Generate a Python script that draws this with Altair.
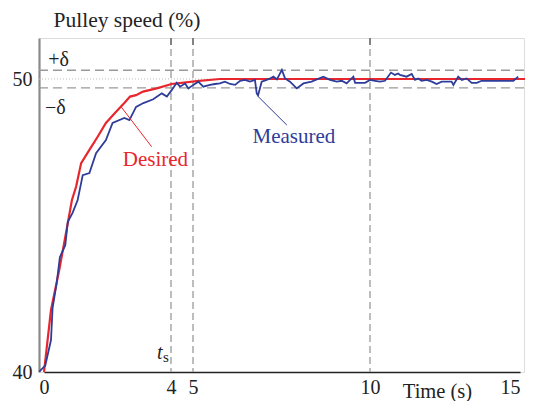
import altair as alt
import pandas as pd

# ---- data ----
desired_t = [0.0, 0.22, 0.48, 0.75, 0.88, 1.01, 1.17, 1.43, 1.69, 1.95, 2.27, 2.53, 2.71, 2.90,
             3.12, 3.55, 4.03, 5.10, 5.76, 15.17]
desired_v = [40.0, 42.12, 43.48, 45.09, 45.87, 46.32, 47.13, 47.58, 48.03, 48.50, 48.88, 49.18,
             49.40, 49.45, 49.57, 49.68, 49.83, 49.93, 50.0, 50.0]

measured_t = [-0.15, 0.04, 0.22, 0.27, 0.40, 0.50, 0.67, 0.75, 0.90, 1.06, 1.22, 1.43, 1.64, 1.95,
              2.16, 2.53, 2.69, 2.90, 3.13, 3.44, 3.71, 3.87, 4.03, 4.26, 4.41, 4.64, 4.79, 5.01,
              5.15, 5.29, 5.48, 5.62, 5.76, 5.90, 6.05, 6.19, 6.33, 6.47, 6.61, 6.75, 6.80, 6.84,
              6.94, 7.08, 7.18, 7.27, 7.37, 7.51, 7.60, 7.74, 7.93, 8.12, 8.35, 8.68, 8.87, 9.06,
              9.20, 9.34, 9.53, 9.58, 9.86, 10.0, 10.17, 10.33, 10.5, 10.7, 10.83, 10.94, 11.0,
              11.22, 11.39, 11.5, 11.61, 11.72, 11.89, 12.06, 12.22, 12.39, 12.72, 12.78, 12.94,
              13.06, 13.22, 13.39, 13.56, 13.72, 14.78, 14.94]
measured_v = [40.01, 40.22, 41.09, 42.18, 43.04, 43.92, 44.33, 45.13, 45.43, 45.87, 46.72, 46.79,
              47.47, 47.92, 48.50, 48.67, 48.60, 49.05, 49.18, 49.31, 49.51, 49.40, 49.62, 49.87,
              49.74, 49.85, 49.68, 49.80, 49.91, 49.74, 49.80, 49.83, 49.85, 49.91, 49.83, 49.80,
              49.94, 49.97, 49.91, 49.97, 49.51, 49.45, 49.91, 49.97, 50.02, 50.08, 49.99, 50.31,
              50.02, 49.91, 49.68, 49.85, 49.91, 50.08, 49.97, 49.91, 49.94, 49.85, 50.08, 49.87,
              49.87, 49.97, 49.94, 49.91, 49.94, 50.22, 50.14, 50.19, 50.14, 50.08, 50.17, 49.97,
              50.02, 49.94, 49.97, 49.91, 49.83, 49.91, 49.91, 49.80, 50.08, 49.97, 50.02, 49.87,
              49.87, 49.94, 49.94, 50.08]

x_ticks = [0, 4, 5, 10, 15]
y_ticks = [40, 50]
marker_times = [4, 5, 10]
setpoint = 50.0
delta = 0.3

# annotation texts
ann_text = ["+δ", "−δ", "Desired", "Measured"]
ann_t = [0.13, 0.03, 3.51, 7.85]
ann_v = [50.65, 49.01, 47.24, 48.02]
ann_color = ["#222222", "#222222", "#e8262d", "#2e3c9a"]
ann_align = ["left", "left", "center", "center"]

# leader lines
lead_t1 = [2.43, 6.80]
lead_v1 = [49.05, 49.45]
lead_t2 = [3.39, 7.65]
lead_v2 = [47.69, 48.43]
lead_color = ["#e8262d", "#2e3c9a"]

RED = "#e8262d"
BLUE = "#2e3c9a"
FONT = "Liberation Serif"
W, H = 485, 334

xscale = alt.Scale(domain=x_ticks, range=[5, 132, 154, 331, 481], nice=False, zero=False)
yscale = alt.Scale(domain=[40, 51.4], nice=False, zero=False)

xaxis = alt.Axis(values=x_ticks, grid=False, ticks=False, labelFont=FONT, labelFontSize=20,
                 labelColor="#222", labelPadding=5, domainColor="#222", domainWidth=1.6,
                 labelAlign=alt.expr("datum.value == 15 ? 'right' : 'center'"),
                 title="Time (s)", titleFont=FONT, titleFontSize=20.5, titleFontWeight="normal",
                 titleColor="#222", titleX=398, titleY=25, titleAlign="center",
                 titleBaseline="alphabetic")
yaxis = alt.Axis(values=y_ticks, grid=False, ticks=False, labelFont=FONT, labelFontSize=20,
                 labelColor="#222", labelPadding=7, domainColor="#8a8a8a", domainWidth=2.2,
                 title="Pulley speed (%)", titleFont=FONT, titleFontSize=21.5,
                 titleFontWeight="normal", titleColor="#222", titleAngle=0, titleX=14,
                 titleY=-12, titleAlign="left", titleBaseline="alphabetic")

X = alt.X("t:Q", scale=xscale, axis=xaxis)
Y = alt.Y("v:Q", scale=yscale, axis=yaxis)

df_des = pd.DataFrame({"t": desired_t, "v": desired_v})
df_mea = pd.DataFrame({"t": measured_t, "v": measured_v})
df_mark = pd.DataFrame({"t": marker_times})
df_band = pd.DataFrame({"v": [setpoint + delta, setpoint - delta]})
df_set = pd.DataFrame({"v": [setpoint]})
df_ann = pd.DataFrame({"text": ann_text, "t": ann_t, "v": ann_v, "c": ann_color, "a": ann_align})
df_lead = pd.DataFrame({"t": lead_t1, "v": lead_v1, "t2": lead_t2, "v2": lead_v2, "c": lead_color})

vlines = alt.Chart(df_mark).mark_rule(color="#9a9a9a", strokeDash=[7, 4], strokeWidth=1.3).encode(
    x=X, y=alt.value(0), y2=alt.value(H))
topticks = alt.Chart(df_mark).mark_rule(color="#707070", strokeWidth=1.5).encode(
    x=X, y=alt.value(0), y2=alt.value(7))
hlines = alt.Chart(df_band).mark_rule(color="#9a9a9a", strokeDash=[9, 5], strokeWidth=1.3).encode(
    y=Y, x=alt.value(0), x2=alt.value(W))
setline = alt.Chart(df_set).mark_rule(color="#bbbbbb", strokeDash=[1, 2], strokeWidth=1).encode(
    y=Y, x=alt.value(0), x2=alt.value(W))

red = alt.Chart(df_des).mark_line(color=RED, strokeWidth=2.2).encode(x=X, y=Y)
blue = alt.Chart(df_mea).mark_line(color=BLUE, strokeWidth=1.8).encode(x=X, y=Y)

leads = alt.Chart(df_lead).mark_rule(strokeWidth=1).encode(
    x=X, y=Y, x2="t2:Q", y2="v2:Q", color=alt.Color("c:N", scale=None))

ann_left = alt.Chart(df_ann[df_ann.a == "left"]).mark_text(
    font=FONT, fontSize=20, align="left", baseline="middle").encode(
    x=X, y=Y, text="text:N", color=alt.Color("c:N", scale=None))
ann_center = alt.Chart(df_ann[df_ann.a == "center"]).mark_text(
    font=FONT, fontSize=21, align="center", baseline="middle").encode(
    x=X, y=Y, text="text:N", color=alt.Color("c:N", scale=None))

ts_t = alt.Chart(pd.DataFrame({"t": [3.65], "v": [40.44], "s": ["t"]})).mark_text(
    font=FONT, fontSize=20, fontStyle="italic", align="center", baseline="alphabetic", color="#222").encode(
    x=X, y=Y, text="s:N")
ts_s = alt.Chart(pd.DataFrame({"t": [3.84], "v": [40.34], "s": ["s"]})).mark_text(
    font=FONT, fontSize=15, align="center", baseline="alphabetic", color="#222").encode(
    x=X, y=Y, text="s:N")

chart = alt.layer(
    vlines, topticks, hlines, setline, red, blue, leads, ann_left, ann_center, ts_t, ts_s
).properties(
    width=W, height=H,
    autosize=alt.AutoSizeParams(type="none"),
    padding={"left": 31, "top": 30, "right": 1, "bottom": 29},
).configure_view(stroke="#8a8a8a", strokeWidth=1.5).configure(background="white")

chart.save("out.html", embed_options={"renderer": "svg", "actions": False})
